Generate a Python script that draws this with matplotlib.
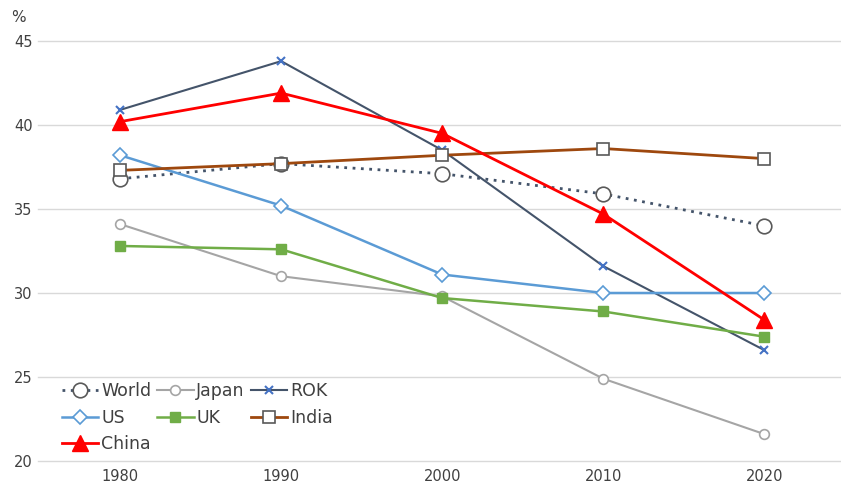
import numpy as np
import matplotlib.pyplot as plt

years = ['1980', '1990', '2000', '2010', '2020']

world = [36.8, 37.7, 37.1, 35.9, 34.0]
japan = [34.1, 31.0, 29.8, 24.9, 21.6]
rok = [40.9, 43.8, 38.5, 31.6, 26.6]
us = [38.2, 35.2, 31.1, 30.0, 30.0]
uk = [32.8, 32.6, 29.7, 28.9, 27.4]
india = [37.3, 37.7, 38.2, 38.6, 38.0]
china = [40.2, 41.9, 39.5, 34.7, 28.4]

x = np.arange(len(years))

fig = plt.figure(figsize=(8.41, 4.9), dpi=100)
ax = fig.add_axes([38 / 841, 1 - 461 / 490, 802 / 841, 420 / 490])

lines = {}
lines['World'] = ax.plot(x, world, color='#44546a', lw=2, ls=(0, (1, 2)),
                         marker='o', ms=10.5, mfc='white', mec='#595959', mew=1.2)[0]
lines['Japan'] = ax.plot(x, japan, color='#a5a5a5', lw=1.5,
                         marker='o', ms=7, mfc='white', mec='#a5a5a5', mew=1.2)[0]
lines['ROK'] = ax.plot(x, rok, color='#44546a', lw=1.5,
                       marker='x', ms=6, mec='#4472c4', mew=1.5)[0]
lines['US'] = ax.plot(x, us, color='#5b9bd5', lw=1.8,
                      marker='D', ms=7, mfc='white', mec='#5b9bd5', mew=1.2)[0]
lines['UK'] = ax.plot(x, uk, color='#70ad47', lw=1.8,
                      marker='s', ms=7, mfc='#70ad47', mec='#70ad47')[0]
lines['India'] = ax.plot(x, india, color='#9e480e', lw=2,
                         marker='s', ms=8, mfc='white', mec='#595959', mew=1.2)[0]
lines['China'] = ax.plot(x, china, color='#ff0000', lw=2,
                         marker='^', ms=11, mfc='#ff0000', mec='#ff0000')[0]

ax.set_xlim(-0.51, 4.47)
ax.set_ylim(20, 45)
ax.set_xticks(x)
ax.set_xticklabels(years)
ax.set_yticks([20, 25, 30, 35, 40, 45])
ax.tick_params(length=0, labelsize=10.5, colors='#404040', pad=6)
ax.tick_params(axis='y', pad=4)
ax.grid(axis='y', color='#d9d9d9', lw=1)
for gl in ax.get_ygridlines():
    gl.set_clip_on(False)
ax.set_axisbelow(True)
for s in ax.spines.values():
    s.set_visible(False)

fig.text(18 / 841, 1 - 18 / 490, '%', fontsize=11, color='#404040',
         ha='center', va='center')

order = ['World', 'US', 'China', 'Japan', 'UK', 'ROK', 'India']
ax.legend([lines[k] for k in order], order, ncol=3, frameon=False,
          loc='upper left', bbox_to_anchor=(62 / 841, 1 - 382 / 490),
          bbox_transform=fig.transFigure, borderpad=0, borderaxespad=0,
          fontsize=12.5, labelcolor='#404040', handlelength=2.1,
          handletextpad=0.15, columnspacing=0.35, labelspacing=0.5)

fig.savefig('out.png', dpi=100)
